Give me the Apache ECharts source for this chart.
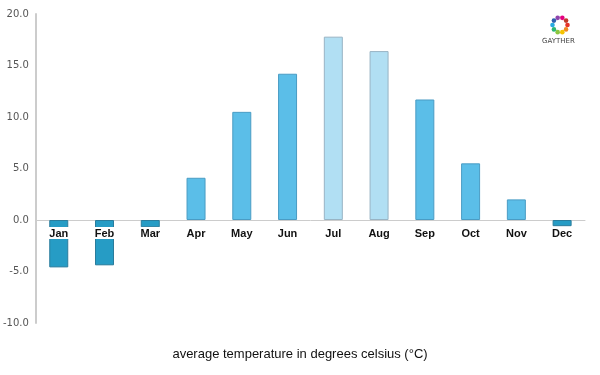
<!DOCTYPE html>
<html>
<head>
<meta charset="utf-8">
<script src="https://cdn.jsdelivr.net/npm/echarts@6/dist/echarts.min.js"></script>
<style>body{margin:0;background:#fff}</style>
</head>
<body>
<div id="main" style="width:600px;height:375px;"></div>
<script type="text/javascript">
var months = ['Jan','Feb','Mar','Apr','May','Jun','Jul','Aug','Sep','Oct','Nov','Dec'];
var temps = [-4.6, -4.4, -0.7, 4.1, 10.5, 14.2, 17.8, 16.4, 11.7, 5.5, 2.0, -0.6];
var yTicks = [-10, -5, 0, 5, 10, 15, 20];

function barStyle(v) {
    if (v < 0) return { color: '#269cc5', borderColor: '#2a7c9c', borderWidth: 1 };
    if (v > 15) return { color: '#b1dff3', borderColor: '#98b4c4', borderWidth: 1 };
    return { color: '#5bbee8', borderColor: '#4a9cc4', borderWidth: 1 };
}

var myChart = echarts.init(document.getElementById('main'));

// small logo ring in the corner
var logoColors = ['#e5332a','#f08a24','#f5c400','#8cc63f','#2bb673','#27aae1','#2e5fac','#8e44ad','#e4007f','#c0392b'];
var logoParts = logoColors.map(function (c, i) {
    var a = i / logoColors.length * Math.PI * 2;
    return {
        type: 'circle',
        shape: { cx: 560 + Math.cos(a) * 7.5, cy: 25 + Math.sin(a) * 7.5, r: 2.3 },
        style: { fill: c }
    };
});
logoParts.push({
    type: 'text', left: 542, top: 38,
    style: { text: 'GAYTHER', fill: '#444', font: '7px "DejaVu Sans"' }
});

myChart.setOption({
    animation: false,
    grid: { left: 35, right: 15, top: 14, bottom: 52 },
    xAxis: {
        type: 'category',
        data: months,
        axisLine: { onZero: true, lineStyle: { color: '#cccccc', width: 1 } },
        axisTick: { show: false },
        axisLabel: { show: false }
    },
    yAxis: {
        type: 'value',
        min: -10,
        max: 20,
        interval: 5,
        axisLine: { show: true, lineStyle: { color: '#cccccc', width: 2 } },
        axisTick: { show: false },
        splitLine: { show: false },
        axisLabel: {
            color: '#555',
            fontSize: 10,
            fontFamily: 'DejaVu Sans',
            margin: 7,
            formatter: function (v) { return yTicks.indexOf(v) >= 0 ? v.toFixed(1) : ''; }
        }
    },
    series: [{
        type: 'bar',
        barWidth: 19,
        data: temps.map(function (v) { return { value: v, itemStyle: barStyle(v) }; })
    }, {
        // month names sit just under the zero line
        type: 'scatter',
        symbolSize: 0,
        silent: true,
        z: 5,
        itemStyle: { opacity: 1 },
        data: months.map(function () { return 0; }),
        label: {
            show: true,
            position: 'bottom',
            distance: 7,
            formatter: function (p) { return months[p.dataIndex]; },
            color: '#111',
            opacity: 1,
            fontSize: 11,
            fontWeight: 'bold',
            fontFamily: 'Liberation Sans',
            backgroundColor: '#fff',
            padding: [1, 1, 0, 1]
        }
    }],
    graphic: [{
        type: 'text',
        left: 'center',
        top: 348,
        style: { text: 'average temperature in degrees celsius (°C)', fill: '#111', font: '13px "Liberation Sans"' }
    }, {
        type: 'group', children: logoParts
    }]
});
</script>
</body>
</html>
